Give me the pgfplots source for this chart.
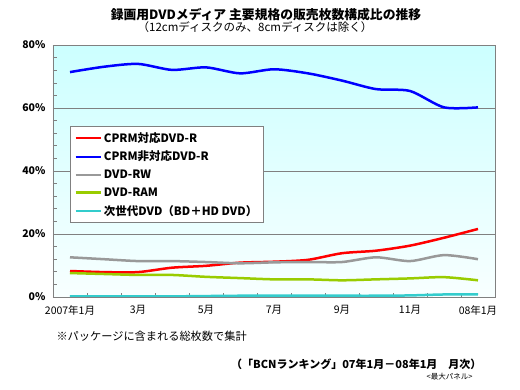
\documentclass[border=0pt]{standalone}
\usepackage{pgfplots}
\pgfplotsset{compat=1.18}
\usepackage{fontspec}
\setmainfont{Noto Sans CJK JP}
\definecolor{cred}{HTML}{FF0000}
\definecolor{cblue}{HTML}{0000FF}
\definecolor{cgray}{HTML}{999999}
\definecolor{cgreen}{HTML}{99CC00}
\definecolor{ccyan}{HTML}{33CCCC}
\definecolor{bgtop}{HTML}{CCFFFF}
\definecolor{bgbot}{HTML}{F8FFFF}
\definecolor{axgray}{HTML}{808080}
\begin{document}
\begin{tikzpicture}
\path (0pt,0pt) rectangle (520pt,390pt);
\node[font=\bfseries\fontsize{12.8}{14}\selectfont] at (266pt,375pt) {録画用DVDメディア 主要規格の販売枚数構成比の推移};
\node[font=\fontsize{11.5}{13}\selectfont] at (255pt,363pt) {（12cmディスクのみ、8cmディスクは除く）};
\begin{axis}[
  at={(53pt,93pt)}, anchor=south west,
  scale only axis, width=442pt, height=252pt,
  xmin=-0.5, xmax=12.5, ymin=0, ymax=80,
  axis line style={axgray, line width=0.8pt},
  axis background/.style={top color=bgtop, bottom color=bgbot},
  tick pos=left, tick align=inside,
  xtick={0,2,4,6,8,10,12},
  xticklabels={2007年1月,3月,5月,7月,9月,11月,08年1月},
  minor xtick={0.5,1.5,...,11.5},
  major x tick style={draw=none},
  minor tick length=4pt,
  ytick={0,20,40,60,80},
  yticklabels={0\%,20\%,40\%,60\%,80\%},
  minor y tick num=4,
  ymajorgrids,
  major grid style={axgray, line width=0.8pt},
  tick style={axgray, line width=0.6pt},
  major y tick style={draw=none},
  yticklabel style={font=\bfseries\fontsize{10.5}{12}\selectfont, xshift=-4pt},
  xticklabel style={font=\fontsize{10.5}{12}\selectfont, yshift=-5pt},
  legend style={at={(0.0385,0.679)}, anchor=north west, draw=axgray, fill=white,
    font=\bfseries\fontsize{11.5}{13}\selectfont, row sep=3.5pt, inner xsep=4pt, inner ysep=4pt, line width=0.8pt},
  legend cell align=left,
  legend image code/.code={\draw[#1, line width=2.5pt] (0pt,0pt) -- (25pt,0pt);},
  every axis plot/.append style={line width=2.5pt, smooth, tension=0.45},
]
\addplot[cred] coordinates {(0,8.25)(1,7.9)(2,7.9)(3,9.3)(4,9.9)(5,10.9)(6,11.2)(7,11.8)(8,13.9)(9,14.7)(10,16.3)(11,18.8)(12,21.6)};
\addlegendentry{CPRM対応DVD-R}
\addplot[cblue] coordinates {(0,71.4)(1,73.1)(2,74.0)(3,72.1)(4,72.9)(5,71.0)(6,72.3)(7,71.0)(8,68.7)(9,66.0)(10,65.4)(11,60.2)(12,60.2)};
\addlegendentry{CPRM非対応DVD-R}
\addplot[cgray] coordinates {(0,12.6)(1,12.0)(2,11.4)(3,11.4)(4,11.1)(5,10.7)(6,11.0)(7,11.1)(8,11.1)(9,12.6)(10,11.4)(11,13.3)(12,12.0)};
\addlegendentry{DVD-RW}
\addplot[cgreen] coordinates {(0,7.6)(1,7.3)(2,7.0)(3,7.0)(4,6.4)(5,6.0)(6,5.6)(7,5.6)(8,5.3)(9,5.6)(10,5.9)(11,6.3)(12,5.3)};
\addlegendentry{DVD-RAM}
\addplot[ccyan] coordinates {(0,0.2)(1,0.2)(2,0.2)(3,0.2)(4,0.3)(5,0.4)(6,0.4)(7,0.4)(8,0.4)(9,0.4)(10,0.5)(11,0.8)(12,0.8)};
\addlegendentry{次世代DVD（BD＋HD DVD）}
\end{axis}
\node[anchor=west, font=\fontsize{11.2}{13}\selectfont] at (53pt,54pt) {※パッケージに含まれる総枚数で集計};
\node[anchor=east, font=\bfseries\fontsize{11}{13}\selectfont] at (485pt,26pt) {（「BCNランキング」07年1月－08年1月　月次）};
\node[anchor=east, font=\fontsize{7.5}{8}\selectfont] at (476pt,13pt) {<最大パネル>};
\end{tikzpicture}
\end{document}
